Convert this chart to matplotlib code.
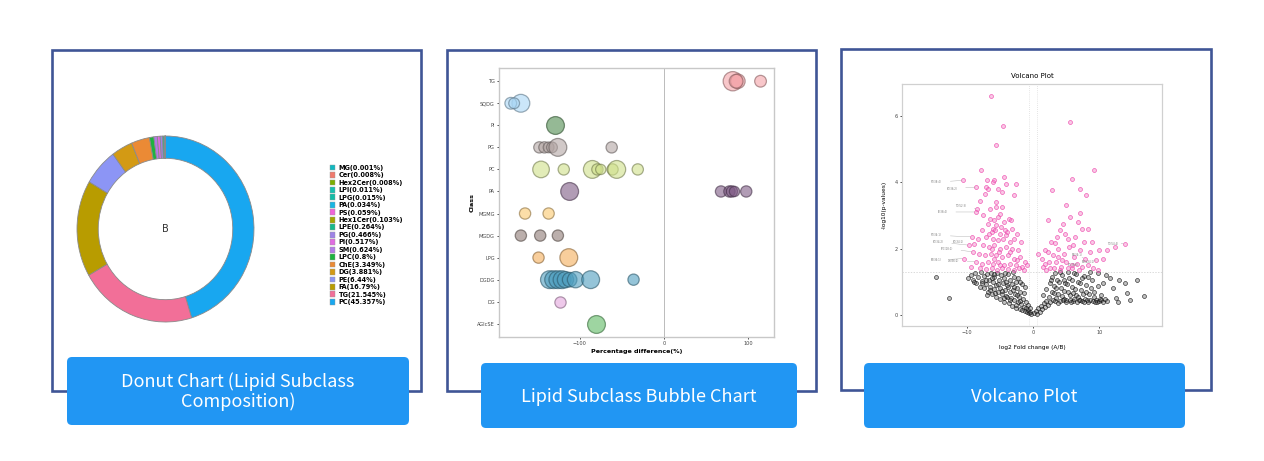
import numpy as np
import matplotlib
matplotlib.use("Agg")
import matplotlib.pyplot as plt
from matplotlib.patches import Rectangle, FancyBboxPatch, Patch
from matplotlib import colors as mcolors

W, H = 1264, 461

# ---- donut data ----
lipids = ["PC", "TG", "FA", "PE", "DG", "ChE", "LPC", "SM", "PI", "PG", "LPE",
          "Hex1Cer", "PS", "PA", "LPG", "LPI", "Hex2Cer", "Cer", "MG"]
percent = [45.357, 21.545, 16.79, 6.44, 3.881, 3.349, 0.800, 0.624, 0.517, 0.466,
           0.264, 0.103, 0.059, 0.034, 0.015, 0.011, 0.008, 0.008, 0.001]
donut_colors = ["#18A7F0", "#F26F98", "#B89C00", "#8C95F5", "#D39A14", "#EB8A35",
                "#1DB33F", "#B37BE8", "#E06BE0", "#9E83E6", "#17B98A", "#A3A500",
                "#F064D8", "#19B5E2", "#13BCA6", "#16BFB0", "#7CAE00", "#F07A6D",
                "#11B8C0"]

# ---- bubble data ----
classes = ["TG", "SQDG", "PI", "PG", "PC", "PA", "MGMG", "MGDG", "LPG", "DGDG", "DG", "AGlcSE"]
bub_class = (["TG"] * 4 + ["SQDG"] * 3 + ["PI"] + ["PG"] * 6 + ["PC"] * 8 + ["PA"] * 6
             + ["MGMG"] * 2 + ["MGDG"] * 3 + ["LPG"] * 2 + ["DGDG"] * 9 + ["DG"] + ["AGlcSE"])
bub_diff = [82, 88, 86, 115,
            -170, -182, -178,
            -129,
            -148, -142, -137, -133, -126, -62,
            -146, -119, -85, -79, -75, -61, -56, -31,
            -112, 68, 78, 81, 84, 98,
            -165, -137,
            -170, -147, -126,
            -149, -113,
            -136, -131, -126, -121, -117, -112, -105, -87, -36,
            -124,
            -81]
bub_abund = [3.5, 2.0, 1.8, 1.3,
             3.0, 1.3, 1.1,
             3.0,
             1.2, 1.2, 1.1, 1.1, 3.0, 1.2,
             2.6, 1.2, 3.0, 1.2, 1.0, 1.2, 3.0, 1.2,
             3.0, 1.2, 1.2, 1.2, 1.0, 1.2,
             1.2, 1.2,
             1.2, 1.2, 1.2,
             1.2, 3.0,
             3.0, 3.0, 3.0, 3.0, 2.5, 2.0, 2.5, 3.0, 1.2,
             1.2,
             3.0]
class_colors = {"TG": "#F4A3A8", "SQDG": "#A9D6F5", "PI": "#4F8B4F", "PG": "#B3A6A4",
                "PC": "#CFE08A", "PA": "#7E5A85", "MGMG": "#FAC86E", "MGDG": "#8E7B75",
                "LPG": "#F4AE5A", "DGDG": "#4E9EBF", "DG": "#E3A6DD", "AGlcSE": "#5DBA63"}

# ---- volcano data: (log2FC, -log10 p) ----
sig_left = [(-6.3, 6.6), (-4.5, 5.7), (-5.5, 5.1), (-7.8, 4.35), (-10.5, 4.05), (-6.9, 4.05),
            (-6.0, 4.0), (-5.8, 4.05), (-4.4, 4.15), (-4.1, 3.95), (-2.6, 3.95), (-8.5, 3.85),
            (-7.1, 3.85), (-6.7, 3.8), (-7.2, 3.65), (-5.3, 3.8), (-4.7, 3.7), (-2.9, 3.6),
            (-7.9, 3.43), (-5.6, 3.4), (-8.4, 3.2), (-5.6, 3.25), (-4.6, 3.25), (-8.6, 3.1),
            (-7.5, 3.0), (-6.4, 2.9), (-5.9, 2.85), (-5.2, 2.95), (-4.3, 2.8), (-3.6, 2.9),
            (-6.8, 2.75), (-5.5, 2.7), (-4.8, 2.65), (-3.2, 2.6), (-7.7, 2.55), (-6.2, 2.5),
            (-5.0, 2.45), (-3.9, 2.5), (-2.4, 2.45), (-9.2, 2.35), (-8.3, 2.3), (-7.1, 2.35),
            (-6.0, 2.3), (-5.3, 2.25), (-4.5, 2.3), (-3.5, 2.2), (-2.8, 2.3), (-1.8, 2.2),
            (-9.6, 2.1), (-8.8, 2.15), (-7.5, 2.1), (-6.6, 2.05), (-5.8, 2.1), (-4.9, 2.0),
            (-4.1, 2.05), (-3.1, 2.0), (-2.2, 1.95), (-10.4, 1.7), (-9.0, 1.9), (-8.1, 1.85),
            (-7.2, 1.8), (-6.3, 1.85), (-5.5, 1.8), (-4.7, 1.75), (-3.8, 1.8), (-2.9, 1.7),
            (-1.9, 1.75), (-1.2, 1.6), (-8.6, 1.6), (-7.6, 1.55), (-6.8, 1.6), (-6.0, 1.55),
            (-5.2, 1.6), (-4.4, 1.5), (-3.5, 1.55), (-2.6, 1.5), (-1.6, 1.45), (-9.3, 1.45),
            (-7.9, 1.4), (-7.0, 1.38), (-6.2, 1.42), (-5.4, 1.36), (-4.6, 1.4), (-3.7, 1.38),
            (-2.9, 1.35), (-2.1, 1.4), (-1.3, 1.35), (-0.9, 1.5), (-6.0, 2.6), (-5.7, 2.55),
            (-4.2, 2.55), (-3.3, 2.85), (-6.5, 3.2), (-5.0, 3.05), (-4.0, 2.4), (-6.1, 2.0),
            (-5.1, 1.9), (-3.4, 1.9), (-4.9, 1.5), (-5.9, 1.7), (-6.6, 2.45), (-2.4, 1.65)]
sig_right = [(5.6, 5.8), (9.2, 4.35), (5.8, 4.1), (2.9, 3.75), (7.1, 3.78), (8.0, 3.6),
             (5.0, 3.3), (7.1, 3.07), (5.6, 2.95), (2.3, 2.86), (4.5, 2.74), (6.8, 2.8),
             (7.3, 2.6), (8.3, 2.6), (4.1, 2.56), (3.3, 2.17), (5.2, 2.3), (6.3, 2.35),
             (1.8, 1.95), (1.3, 1.7), (1.8, 1.55), (2.2, 1.9), (2.6, 1.4), (3.0, 1.8),
             (3.4, 1.6), (3.8, 2.0), (4.2, 1.45), (4.6, 1.85), (5.0, 1.6), (5.4, 2.05),
             (5.8, 1.4), (6.2, 1.75), (6.6, 1.55), (7.0, 1.95), (7.4, 1.45), (7.8, 1.7),
             (8.2, 1.5), (8.6, 1.9), (9.0, 1.4), (9.4, 1.65), (9.8, 1.35), (10.5, 1.7),
             (11.2, 1.95), (12.3, 2.05), (13.8, 2.15), (10.0, 1.95), (3.6, 2.35), (2.7, 2.2),
             (4.8, 2.45), (6.0, 2.1), (7.6, 2.2), (1.5, 1.45), (2.4, 1.6), (4.0, 1.35),
             (6.9, 1.35), (8.9, 2.2), (5.9, 1.5), (3.1, 1.4), (0.8, 1.85), (4.4, 1.65),
             (3.7, 1.75), (2.0, 1.35), (5.3, 1.4)]
nonsig = [(-9.3, 1.20), (-9.0, 1.05), (-8.7, 1.25), (-8.5, 0.95), (-8.2, 1.15), (-8.0, 0.85),
          (-7.8, 1.28), (-7.6, 1.02), (-7.4, 0.80), (-7.3, 1.18), (-7.1, 0.92), (-6.9, 1.22),
          (-6.8, 0.70), (-6.6, 1.05), (-6.5, 0.85), (-6.3, 1.25), (-6.2, 0.62), (-6.0, 0.98),
          (-5.9, 0.78), (-5.8, 1.15), (-5.6, 0.55), (-5.5, 0.90), (-5.4, 1.27), (-5.3, 0.70),
          (-5.1, 1.05), (-5.0, 0.48), (-4.9, 0.82), (-4.8, 1.20), (-4.6, 0.62), (-4.5, 0.95),
          (-4.4, 1.12), (-4.3, 0.40), (-4.2, 0.75), (-4.0, 1.00), (-3.9, 0.55), (-3.8, 1.22),
          (-3.7, 0.85), (-3.6, 0.35), (-3.5, 0.68), (-3.4, 1.05), (-3.3, 0.50), (-3.2, 0.92),
          (-3.1, 0.28), (-3.0, 0.75), (-2.9, 1.15), (-2.8, 0.45), (-2.7, 0.62), (-2.6, 0.98),
          (-2.5, 0.22), (-2.4, 0.80), (-2.3, 0.38), (-2.2, 1.10), (-2.1, 0.55), (-2.0, 0.18),
          (-1.9, 0.70), (-1.8, 0.32), (-1.7, 0.92), (-1.6, 0.15), (-1.5, 0.48), (-1.4, 0.25),
          (-1.3, 0.65), (-1.2, 0.12), (-1.1, 0.38), (-1.0, 0.20), (-0.9, 0.08), (-0.8, 0.30),
          (-0.7, 0.15), (-0.6, 0.05), (-0.5, 0.22), (-0.4, 0.10), (-0.3, 0.03), (-8.9, 0.98),
          (-7.7, 0.95), (-6.4, 0.75), (-5.7, 0.65), (-4.7, 0.72), (-4.1, 0.58), (-3.5, 0.45),
          (-2.8, 0.85), (-2.4, 0.60), (-1.9, 0.42), (-3.9, 0.90), (-5.2, 0.92), (-6.1, 1.10),
          (-4.4, 0.52), (-2.6, 0.30), (-12.6, 0.52), (-14.6, 1.13), (-9.7, 1.10), (-7.0, 1.05),
          (-5.9, 1.22), (-4.2, 1.25), (-3.0, 1.28), (-2.0, 1.00), (-1.2, 0.85), (-6.9, 0.60),
          (0.2, 0.05), (0.4, 0.12), (0.6, 0.02), (0.8, 0.20), (1.0, 0.10), (1.2, 0.28),
          (1.4, 0.18), (1.6, 0.35), (1.8, 0.25), (2.0, 0.42), (2.2, 0.30), (2.4, 0.55),
          (2.6, 0.38), (2.8, 0.70), (3.0, 0.45), (3.2, 0.88), (3.4, 0.50), (3.6, 1.05),
          (3.8, 0.62), (4.0, 0.42), (4.2, 0.80), (4.4, 1.20), (4.6, 0.48), (4.8, 0.95),
          (5.0, 0.40), (5.2, 0.70), (5.4, 1.12), (5.6, 0.45), (5.8, 0.85), (6.0, 0.42),
          (6.2, 1.25), (6.4, 0.60), (6.6, 0.40), (6.8, 1.00), (7.0, 0.45), (7.2, 0.75),
          (7.4, 0.42), (7.6, 1.18), (7.8, 0.48), (8.0, 0.90), (8.2, 0.40), (8.4, 0.62),
          (8.6, 0.45), (8.8, 1.05), (9.0, 0.42), (9.2, 0.70), (9.4, 0.45), (9.6, 0.40),
          (9.8, 0.88), (10.0, 0.43), (10.3, 0.45), (10.6, 0.40), (10.9, 0.48), (11.2, 0.42),
          (3.1, 0.65), (3.5, 0.80), (3.9, 1.00), (4.3, 0.58), (4.7, 0.72), (5.1, 0.92),
          (5.5, 0.60), (5.9, 1.05), (6.3, 0.78), (6.7, 0.55), (7.1, 0.95), (7.5, 0.62),
          (7.9, 0.70), (8.3, 1.15), (8.7, 0.80), (9.1, 0.55), (2.5, 0.95), (2.9, 1.15),
          (3.3, 1.25), (4.1, 1.28), (5.3, 1.28), (6.5, 1.22), (1.5, 0.60), (2.0, 0.78),
          (11.6, 1.10), (12.0, 0.82), (13.0, 1.05), (12.5, 0.50), (14.6, 0.45), (15.6, 1.05),
          (16.7, 0.57), (13.8, 0.95), (11.0, 1.20), (10.5, 0.95), (9.8, 1.25), (14.2, 0.65),
          (12.8, 0.40), (10.2, 0.60), (3.3, 0.42), (4.5, 0.44), (5.7, 0.40), (6.9, 0.46),
          (8.1, 0.44), (9.3, 0.40), (10.1, 0.47), (7.7, 0.38), (6.1, 0.47), (4.9, 0.46),
          (2.7, 1.05), (7.3, 1.10), (8.5, 1.28), (6.0, 0.65), (4.6, 1.05), (3.7, 0.35)]
# labelled lipids: name, label position, point
vol_labels = [("PE(38:4)", (-14.5, 4.0), (-10.5, 4.05)),
              ("PC(36:2)", (-12.2, 3.8), (-8.5, 3.85)),
              ("TG(52:3)", (-10.9, 3.27), (-8.4, 3.2)),
              ("PI(38:4)", (-13.6, 3.1), (-8.6, 3.1)),
              ("PE(34:1)", (-14.5, 2.4), (-9.2, 2.35)),
              ("PC(34:2)", (-14.3, 2.2), (-9.6, 2.1)),
              ("PG(34:1)", (-11.2, 2.2), (-8.8, 2.15)),
              ("LPC(18:1)", (-13.0, 2.0), (-9.0, 1.9)),
              ("PS(36:1)", (-14.5, 1.65), (-10.4, 1.7)),
              ("DG(36:2)", (-12.0, 1.62), (-8.6, 1.6)),
              ("TG(54:4)", (12.0, 2.15), (13.8, 2.15)),
              ("PA(34:1)", (6.6, 1.8), (7.8, 1.7)),
              ("SM(d34:1)", (8.4, 1.6), (9.4, 1.65)),
              ("PC(38:6)", (6.0, 1.5), (7.4, 1.45))]

buttons = ["Donut Chart (Lipid Subclass\nComposition)", "Lipid Subclass Bubble Chart", "Volcano Plot"]


def px_box(x0, y0, x1, y1):
    return [x0 / W, 1 - y1 / H, (x1 - x0) / W, (y1 - y0) / H]


fig = plt.figure(figsize=(W / 100, H / 100), dpi=100)
fig.patch.set_facecolor("white")

# background layer for frames and buttons
bg = fig.add_axes([0, 0, 1, 1])
bg.set_xlim(0, W)
bg.set_ylim(H, 0)
bg.axis("off")
frame_col = "#3F5596"
for (x0, y0, x1, y1) in [(52, 50, 421, 391), (447, 50, 816, 391), (841, 49, 1211, 390)]:
    bg.add_patch(Rectangle((x0, y0), x1 - x0, y1 - y0, fill=False, ec=frame_col, lw=1.9))
for (x0, y0, x1, y1), txt in zip([(67, 357, 409, 425), (481, 363, 797, 428), (864, 363, 1185, 428)], buttons):
    bg.add_patch(FancyBboxPatch((x0, y0), x1 - x0, y1 - y0,
                                boxstyle="round,pad=0,rounding_size=5",
                                fc="#2196F3", ec="none", zorder=3))
    bg.text((x0 + x1) / 2, (y0 + y1) / 2 + 1, txt, ha="center", va="center", color="white",
            fontsize=13, family=["Noto Sans CJK SC", "DejaVu Sans"], linespacing=1.1, zorder=4)

# ---- donut ----
ax1 = fig.add_axes(px_box(77, 136, 254, 322))
wedges, _ = ax1.pie(percent, colors=donut_colors, startangle=90, counterclock=False,
                    radius=1.0, wedgeprops=dict(width=0.24, edgecolor="#8A8A8A", linewidth=0.6))
ax1.set_aspect("auto")
ax1.set_xlim(-1, 1)
ax1.set_ylim(-1, 1)
ax1.text(0, 0, "B", ha="center", va="center", fontsize=7, color="#333333")
legend_labels = [f"{n}({p}%)" for n, p in zip(lipids, percent)]
handles = [Patch(facecolor=c, edgecolor="#999999", linewidth=0.3) for c in donut_colors]
fig.legend(handles[::-1], legend_labels[::-1], loc="upper left",
           bbox_to_anchor=(327 / W, 1 - 162 / H), frameon=False,
           handlelength=0.9, handleheight=1.0, handletextpad=0.5, labelspacing=0.2,
           borderaxespad=0, prop=dict(weight="bold", size=4.7))

# ---- bubble chart ----
ax2 = fig.add_axes(px_box(499, 68, 774, 337))
ypos = {c: len(classes) - 1 - i for i, c in enumerate(classes)}
for c in classes:
    idx = [i for i, k in enumerate(bub_class) if k == c]
    xs = [bub_diff[i] for i in idx]
    ys = [ypos[c]] * len(idx)
    ss = [bub_abund[i] * 55 for i in idx]
    edge = np.array(mcolors.to_rgb(class_colors[c])) * 0.55
    ax2.scatter(xs, ys, s=ss, facecolor=class_colors[c], alpha=0.6,
                edgecolor=edge, linewidth=0.9, zorder=3)
ax2.axvline(0, color="#BBBBBB", lw=0.7, zorder=1)
ax2.set_xlim(-196, 131)
ax2.set_ylim(-0.6, len(classes) - 0.4)
ax2.set_yticks([ypos[c] for c in classes])
ax2.set_yticklabels(classes)
ax2.set_xticks([-100, 0, 100])
ax2.tick_params(labelsize=3.6, length=1.5, width=0.5, pad=1.5, labelcolor="#444444")
for s in ax2.spines.values():
    s.set_color("#C8C8C8")
    s.set_linewidth(1.0)
ax2.set_xlabel("Percentage difference(%)", fontsize=4.6, fontweight="bold", labelpad=2)
ax2.set_ylabel("Class", fontsize=4.6, fontweight="bold", labelpad=2)

# ---- volcano ----
ax3 = fig.add_axes(px_box(902, 84, 1162, 326))
nx, ny = zip(*nonsig)
ax3.scatter(nx, ny, s=8, facecolor=(0.3, 0.3, 0.3, 0.35), edgecolor="#111111", linewidth=0.4, zorder=2)
lx, ly = zip(*(sig_left + sig_right))
ax3.scatter(lx, ly, s=8, facecolor=(0.95, 0.45, 0.75, 0.4), edgecolor="#EE4FB0", linewidth=0.45, zorder=3)
for name, tpos, pt in vol_labels:
    ax3.annotate(name, xy=pt, xytext=tpos, fontsize=1.8, color="#777777", ha="center", va="center",
                 arrowprops=dict(arrowstyle="-", color="#AAAAAA", lw=0.3, shrinkA=4, shrinkB=1))
ax3.axhline(1.3, color="#CCCCCC", lw=0.5, ls=(0, (2, 2)), zorder=1)
ax3.axvline(-0.58, color="#CCCCCC", lw=0.5, ls=(0, (1, 2)), zorder=1)
ax3.axvline(0.58, color="#CCCCCC", lw=0.5, ls=(0, (1, 2)), zorder=1)
ax3.set_xlim(-19.7, 19.4)
ax3.set_ylim(-0.33, 6.95)
ax3.set_xticks([-10, 0, 10])
ax3.set_yticks([0, 2, 4, 6])
ax3.tick_params(labelsize=3.6, length=1.5, width=0.5, pad=1.5, labelcolor="#444444")
for s in ax3.spines.values():
    s.set_color("#D0D0D0")
    s.set_linewidth(0.9)
ax3.set_title("Volcano Plot", fontsize=5, pad=4)
ax3.set_xlabel("log2 Fold change (A/B)", fontsize=4.2, labelpad=7)
ax3.set_ylabel("-log10(p-values)", fontsize=4.2, labelpad=6)

fig.savefig("out.png", dpi=100)
